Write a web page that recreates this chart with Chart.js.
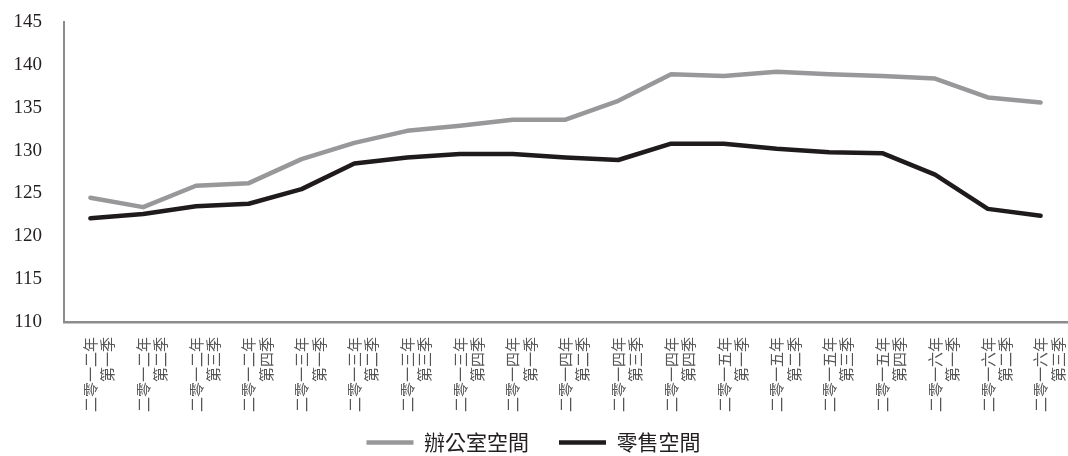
<!DOCTYPE html>
<html>
<head>
<meta charset="utf-8">
<script src="https://cdn.jsdelivr.net/npm/chart.js@4/dist/chart.umd.min.js"></script>
<style>
  html, body { margin: 0; padding: 0; background: #ffffff; }
  #wrap { width: 1068px; height: 456px; }
</style>
</head>
<body>
<div id="wrap"><canvas id="c" width="1068" height="456"></canvas></div>
<script>
// Quarter labels: year line and quarter line
const years = ['二零一二年','二零一二年','二零一二年','二零一二年',
               '二零一三年','二零一三年','二零一三年','二零一三年',
               '二零一四年','二零一四年','二零一四年','二零一四年',
               '二零一五年','二零一五年','二零一五年','二零一五年',
               '二零一六年','二零一六年','二零一六年'];
const quarters = ['第一季','第二季','第三季','第四季',
                  '第一季','第二季','第三季','第四季',
                  '第一季','第二季','第三季','第四季',
                  '第一季','第二季','第三季','第四季',
                  '第一季','第二季','第三季'];

// Index values
const officeSpace = [124.5, 123.4, 125.9, 126.2, 129.0, 130.9, 132.3, 132.9, 133.6, 133.6,
                     135.8, 138.9, 138.7, 139.2, 138.9, 138.7, 138.4, 136.2, 135.6];
const retailSpace = [122.1, 122.6, 123.5, 123.8, 125.5, 128.5, 129.2, 129.6, 129.6, 129.2,
                     128.9, 130.8, 130.8, 130.2, 129.8, 129.7, 127.2, 123.2, 122.4];

const yTicks = [110, 115, 120, 125, 130, 135, 140, 145];

const labels = years.map((y, i) => [y, quarters[i]]);

const GREY = '#98989a';
const BLACK = '#1f1b1c';
const AXIS = '#8c8c8e';

new Chart(document.getElementById('c'), {
  type: 'line',
  data: {
    labels: labels,
    datasets: [
      {
        label: '辦公室空間',
        data: officeSpace,
        borderColor: GREY,
        backgroundColor: GREY,
        borderWidth: 4.5,
        pointRadius: 0,
        pointStyle: 'line',
        tension: 0,
        borderCapStyle: 'round',
        borderJoinStyle: 'round'
      },
      {
        label: '零售空間',
        data: retailSpace,
        borderColor: BLACK,
        backgroundColor: BLACK,
        borderWidth: 4.5,
        pointRadius: 0,
        pointStyle: 'line',
        tension: 0,
        borderCapStyle: 'round',
        borderJoinStyle: 'round'
      }
    ]
  },
  options: {
    responsive: false,
    animation: false,
    layout: { padding: { top: 22, right: 1, bottom: -7, left: 0 } },
    plugins: {
      tooltip: { enabled: false },
      legend: {
        position: 'bottom',
        labels: {
          color: '#231f20',
          font: { family: "'Noto Sans CJK TC', sans-serif", size: 21 },
          usePointStyle: true,
          pointStyleWidth: 47,
          boxHeight: 5,
          padding: 30
        }
      }
    },
    scales: {
      x: {
        type: 'category',
        offset: true,
        grid: { display: false, drawTicks: false },
        border: { display: true, color: AXIS, width: 2.5 },
        ticks: {
          autoSkip: false,
          maxRotation: 90,
          minRotation: 90,
          padding: 15,
          color: '#555',
          font: { family: "'Noto Sans CJK TC', sans-serif", size: 15, lineHeight: 1.15 }
        },
        afterFit(scale) {
          scale.height = 80;
          scale.paddingLeft = 0;
          scale.paddingRight = 0;
          // the long vertical labels run a little past the axis box; keep them whole
          scale._computeLabelArea = () => undefined;
        }
      },
      y: {
        min: 110,
        max: 145,
        afterBuildTicks(scale) { scale.ticks = yTicks.map(v => ({ value: v })); },
        grid: { display: false, drawTicks: false },
        border: { display: true, color: AXIS, width: 2 },
        ticks: {
          padding: 22,
          color: '#231f20',
          font: { family: "'Liberation Serif', serif", size: 19 }
        },
        afterFit(scale) {
          scale.width = 64;
          scale.paddingTop = 0;
          scale.paddingBottom = 0;
        }
      }
    }
  }
});
</script>
</body>
</html>
